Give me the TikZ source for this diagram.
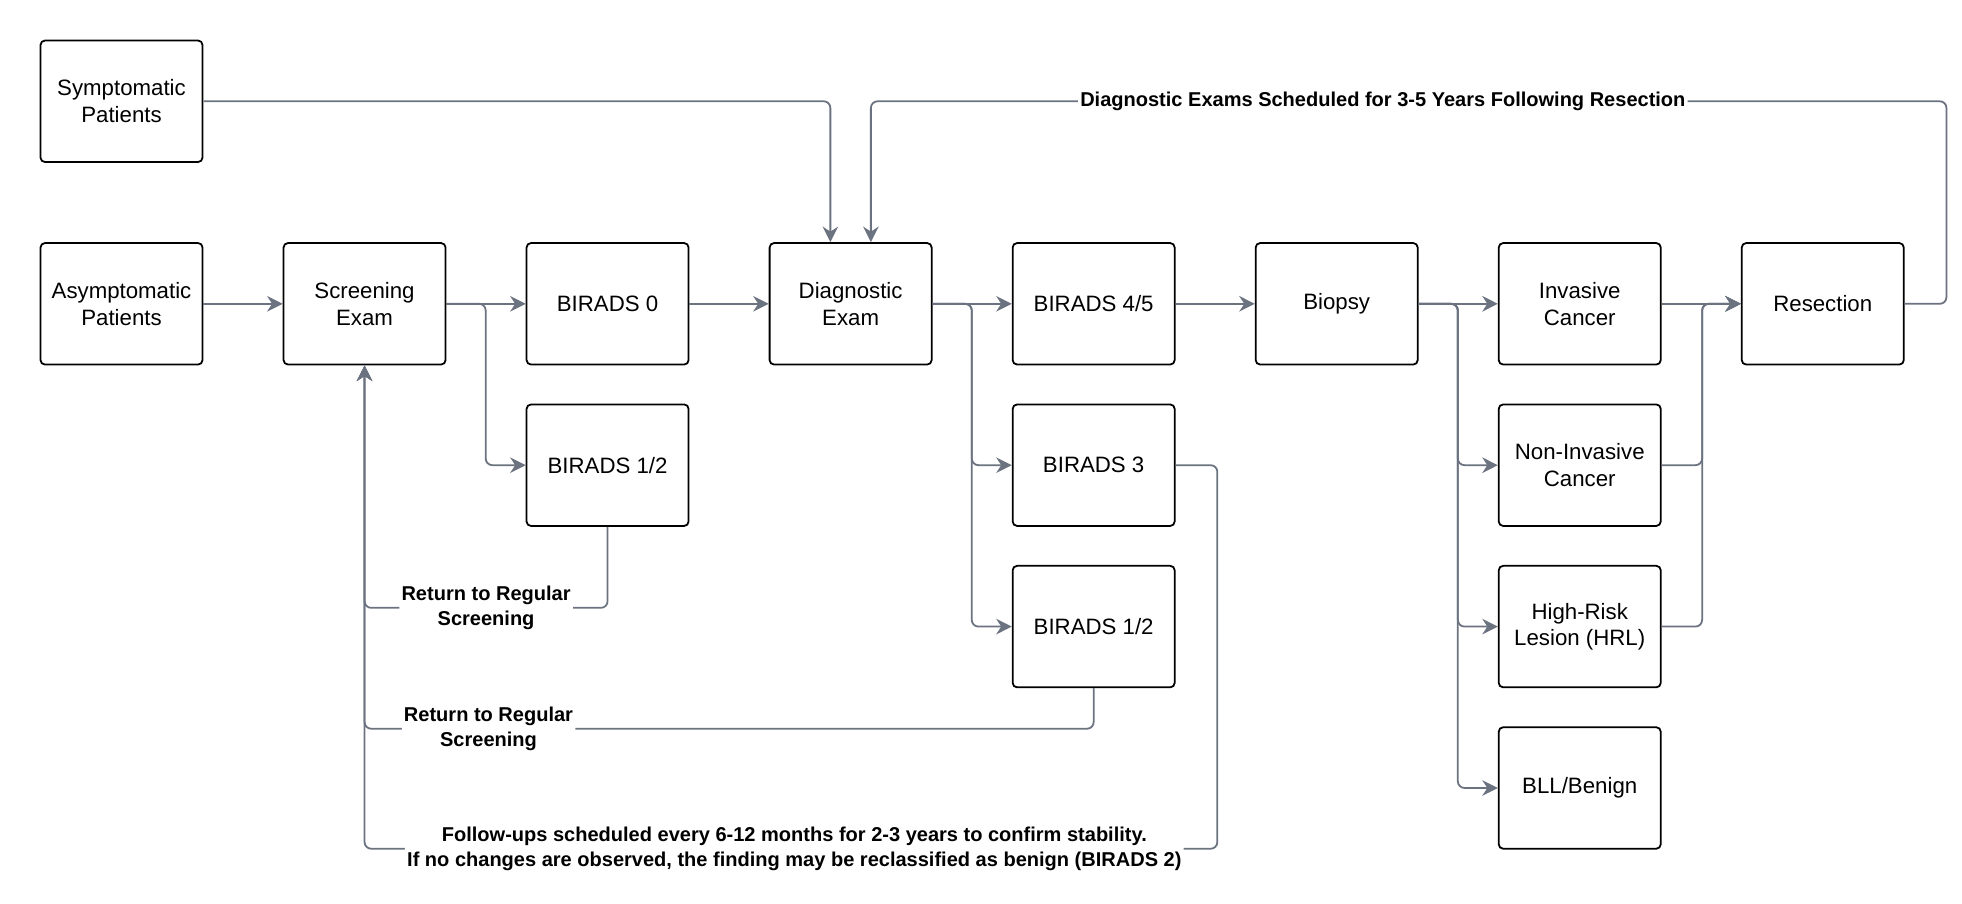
\documentclass[tikz,border=0pt]{standalone}
\usepackage{fontspec}
\setmainfont{Liberation Sans}
\usetikzlibrary{arrows.meta,positioning}
\definecolor{linkgray}{RGB}{107,114,128}

\begin{document}
\begin{tikzpicture}[>={Stealth[length=7pt,width=7pt]}, node distance=3.84cm,
    box/.style={draw, thick, rounded corners=2pt, minimum width=2.56cm, minimum height=1.92cm,
                align=center, font=\fontsize{10}{12}\selectfont},
    link/.style={draw=linkgray, thick, rounded corners=3pt},
    note/.style={fill=white, inner sep=1pt, align=center, font=\fontsize{9}{11}\bfseries}]
    \useasboundingbox (0,0) rectangle (31,-14.28);

    % Nodes, main row
    \node [box] (asym)                      at (1.92,-4.8) {Asymptomatic\\Patients};
    \node [box] (sym)   [above of=asym, node distance=3.2cm] {Symptomatic\\Patients};
    \node [box] (scr)   [right of=asym]     {Screening\\Exam};
    \node [box] (b0)    [right of=scr]      {BIRADS 0};
    \node [box] (diag)  [right of=b0]       {Diagnostic\\Exam};
    \node [box] (b45)   [right of=diag]     {BIRADS 4/5};
    \node [box] (bio)   [right of=b45]      {Biopsy};
    \node [box] (inv)   [right of=bio]      {Invasive\\Cancer};
    \node [box] (res)   [right of=inv]      {Resection};

    % Nodes, lower rows
    \node [box] (b12a)  [below of=b0,  node distance=2.55cm] {BIRADS 1/2};
    \node [box] (b3)    [below of=b45, node distance=2.55cm] {BIRADS 3};
    \node [box] (b12b)  [below of=b3,  node distance=2.55cm] {BIRADS 1/2};
    \node [box] (ninv)  [below of=inv, node distance=2.55cm] {Non-Invasive\\Cancer};
    \node [box] (hrl)   [below of=ninv, node distance=2.55cm] {High-Risk\\Lesion (HRL)};
    \node [box] (bll)   [below of=hrl, node distance=2.55cm] {BLL/Benign};

    % Paths
    \path [link,->] (asym) -- (scr);
    \path [link,->] (scr) -- (b0);
    \path [link,->] (scr.east) -- ++(0.62,0) |- (b12a);
    \path [link,->] (b0) -- (diag);
    \path [link,->] (diag) -- (b45);
    \path [link,->] (diag.east) -- ++(0.62,0) |- (b3);
    \path [link,->] (diag.east) -- ++(0.62,0) |- (b12b);
    \path [link,->] (b45) -- (bio);
    \path [link,->] (bio) -- (inv);
    \path [link,->] (bio.east) -- ++(0.62,0) |- (ninv);
    \path [link,->] (bio.east) -- ++(0.62,0) |- (hrl);
    \path [link,->] (bio.east) -- ++(0.62,0) |- (bll);
    \path [link,->] (inv) -- (res);
    \path [link,->] (ninv.east) -- ++(0.64,0) |- (res);
    \path [link,->] (hrl.east) -- ++(0.64,0) |- (res);

    % Paths into the diagnostic exam
    \path [link,->] (sym.east) -| ([xshift=-0.32cm]diag.north);
    \path [link,->] (res.east) -- ++(0.66,0) -- ++(0,3.2)
        -| node [note, pos=0.262] {Diagnostic Exams Scheduled for 3-5 Years Following Resection}
        ([xshift=0.32cm]diag.north);

    % Paths back to screening
    \path [link,->] (b12a.south) -- ++(0,-1.28)
        -| node [note, pos=0.25] {Return to Regular\\Screening} (scr.south);
    \path [link,->] (b12b.south) -- ++(0,-0.64)
        -| node [note, pos=0.415] {Return to Regular\\Screening} (scr.south);
    \path [link,->] (b3.east) -- ++(0.66,0) -- ++(0,-6.06)
        -| node [note, pos=0.248] {Follow-ups scheduled every 6-12 months for 2-3 years to confirm stability.\\If no changes are observed, the finding may be reclassified as benign (BIRADS 2)}
        (scr.south);

\end{tikzpicture}
\end{document}
